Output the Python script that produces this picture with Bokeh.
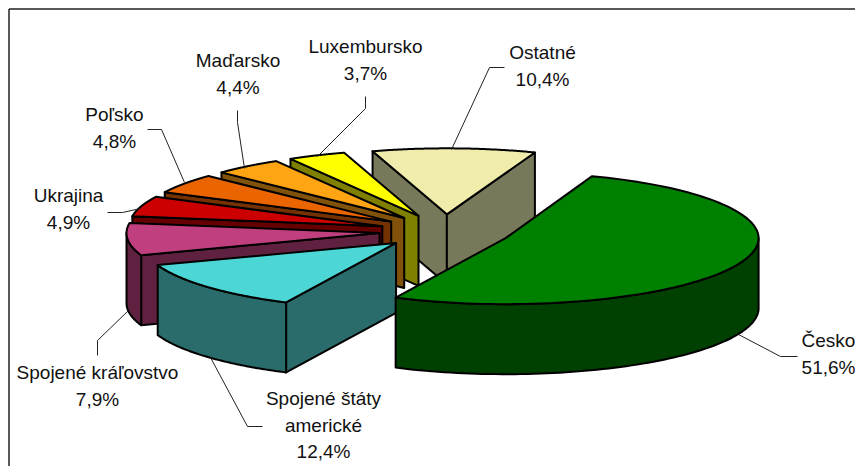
import math
import numpy as np
from bokeh.plotting import figure
from bokeh.models import Range1d
from bokeh.embed import file_html
from bokeh.resources import INLINE
from bokeh.core.properties import value

categories = ["Česko", "Spojené štáty americké", "Spojené kráľovstvo", "Ukrajina",
              "Poľsko", "Maďarsko", "Luxembursko", "Ostatné"]
shares = [51.6, 12.4, 7.9, 4.9, 4.8, 4.4, 3.7, 10.4]
top_colors = ["#008000", "#4DD6D6", "#C0407F", "#CC0000", "#EA6400", "#FFA514", "#FFFF00", "#F0ECAC"]
side_colors = ["#004000", "#2A6B6B", "#602040", "#660000", "#753200", "#80520A", "#808000", "#78785A"]
label_lines = [["Česko"], ["Spojené štáty", "americké"], ["Spojené kráľovstvo"], ["Ukrajina"],
               ["Poľsko"], ["Maďarsko"], ["Luxembursko"], ["Ostatné"]]

# projection of the pie, in window pixels
CX, CY, RX, RY, DEPTH, EXPLODE, START = 444.5, 231, 253, 66, 70, 0.26, 20.0
label_x = [828, 323, 97, 68, 114, 237.5, 365, 542]
label_y = [340, 398, 372, 195, 114, 60, 46, 52]
LINE_STEP = 26.5
leaders = [
    [(738, 334), (780, 356), (797, 356)],
    [(210, 357), (247, 426), (262, 426)],
    [(128, 310), (97, 340), (97, 355)],
    [(140, 208), (122, 212), (107, 212)],
    [(184, 182), (161, 129), (147, 129)],
    [(244, 168), (237, 122), (237, 110)],
    [(317, 156), (365, 108), (365, 96)],
    [(451, 149), (489, 67), (504, 67)],
]

p = figure(width=855, height=466, output_backend="svg", toolbar_location=None,
           x_range=Range1d(0, 855), y_range=Range1d(466, 0), min_border=0,
           x_axis_type=None, y_axis_type=None)
p.grid.visible = False
p.outline_line_color = None
p.background_fill_color = "white"

# chart-area border: only top and left fall inside the picture
p.line([8.5, 8.5], [466, 8.5], line_color="#222222", line_width=1.5)
p.line([8.5, 855], [8.5, 8.5], line_color="#222222", line_width=1.5)


def pt(t, ox, oy, r=1.0):
    a = math.radians(t)
    return ox + r * RX * math.sin(a), oy - r * RY * math.cos(a)


def face(xs, ys, color):
    p.patch(xs, ys, fill_color=color, line_color="black", line_width=2, line_join="round")


# wedge angles come from the shares, clockwise from the top
spans = []
t0 = START
for s in shares:
    t1 = t0 + s * 3.6
    spans.append((t0, t1))
    t0 = t1

# back-to-front: Ostatné first, then round to the left, Česko last
order = [7, 6, 5, 4, 3, 2, 1, 0]
for i in order:
    a0, a1 = spans[i]
    mid = (a0 + a1) / 2
    ox, oy = pt(mid, CX, CY, EXPLODE)
    sx, sy = pt(a0, ox, oy)
    ex, ey = pt(a1, ox, oy)
    # cut faces
    if math.sin(math.radians(a0)) < 0:
        face([ox, sx, sx, ox], [oy, sy, sy + DEPTH, oy + DEPTH], side_colors[i])
    if math.sin(math.radians(a1)) > 0:
        face([ox, ex, ex, ox], [oy, ey, ey + DEPTH, oy + DEPTH], side_colors[i])
    # outer wall: only the front half, 90..270 degrees
    w0, w1 = max(a0, 90), min(a1, 270)
    if w1 > w0:
        ts = np.linspace(w0, w1, 80)
        ax = [pt(t, ox, oy)[0] for t in ts]
        ay = [pt(t, ox, oy)[1] for t in ts]
        face(ax + ax[::-1], ay + [y + DEPTH for y in ay[::-1]], side_colors[i])
    # top
    ts = np.linspace(a0, a1, 100)
    tx = [ox] + [pt(t, ox, oy)[0] for t in ts]
    ty = [oy] + [pt(t, ox, oy)[1] for t in ts]
    face(tx, ty, top_colors[i])

for pts in leaders:
    p.line([q[0] for q in pts], [q[1] for q in pts], line_color="#222222", line_width=1)

for i, lines in enumerate(label_lines):
    rows = lines + [f"{shares[i]:.1f}".replace(".", ",") + "%"]
    p.text([label_x[i]] * len(rows), [label_y[i] + k * LINE_STEP for k in range(len(rows))], text=rows,
           text_font=value("Liberation Sans"), text_font_size="19px", text_color="#111111",
           text_align="center", text_baseline="middle")

open("out.html", "w").write(file_html(p, INLINE))
